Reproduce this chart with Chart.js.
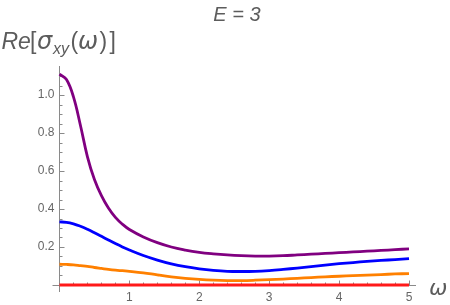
<!DOCTYPE html>
<html>
<head>
<meta charset="utf-8">
<script src="https://cdn.jsdelivr.net/npm/chart.js@4"></script>
<style>
html,body{margin:0;padding:0;background:#fff;}
#c{display:block;}
</style>
</head>
<body>
<canvas id="c" width="450" height="305"></canvas>
<script>
// ---- data ----
const omega = [0,0.1,0.2,0.3,0.4,0.5,0.6,0.7,0.8,0.9,1.0,1.2,1.4,1.6,1.8,2.0,2.2,2.4,2.6,2.8,3.0,3.2,3.4,3.6,3.8,4.0,4.2,4.4,4.6,4.8,5.0];
const purpleVals = [1.110,1.082,0.990,0.840,0.675,0.555,0.470,0.405,0.356,0.320,0.292,0.253,0.223,0.200,0.184,0.172,0.164,0.158,0.154,0.152,0.152,0.154,0.158,0.162,0.166,0.170,0.174,0.178,0.182,0.186,0.190];
const blueVals = [0.332,0.330,0.322,0.309,0.293,0.275,0.256,0.237,0.218,0.200,0.184,0.155,0.131,0.111,0.096,0.085,0.077,0.072,0.071,0.072,0.076,0.082,0.089,0.097,0.105,0.112,0.118,0.124,0.129,0.134,0.139];
const orangeVals = [0.109,0.108,0.106,0.102,0.098,0.092,0.087,0.082,0.078,0.075,0.072,0.064,0.053,0.043,0.035,0.029,0.025,0.023,0.023,0.025,0.028,0.031,0.035,0.039,0.043,0.046,0.049,0.052,0.055,0.058,0.060];
const redVals = [0,0,0,0,0,0,0,0,0,0,0,0,0,0,0,0,0,0,0,0,0,0,0,0,0,0,0,0,0,0,0];
const xMajorTicks = [1,2,3,4,5];
const xTickLabels = ['1','2','3','4','5'];
const yMajorTicks = [0.2,0.4,0.6,0.8,1.0];
const yTickLabels = ['0.2','0.4','0.6','0.8','1.0'];
const titleText = 'E = 3';
const xAxisLabel = 'ω';

function pts(vals){ return omega.map((x,i)=>({x:x,y:vals[i]})); }

const axesPlugin = {
  id:'mmaAxes',
  beforeDatasetsDraw(chart){
    const ctx = chart.ctx, a = chart.chartArea;
    const xs = chart.scales.x, ys = chart.scales.y;
    const x0 = Math.round(xs.getPixelForValue(0)) + 0.5;
    const y0 = Math.round(ys.getPixelForValue(0)) + 0.5;
    ctx.save();
    ctx.strokeStyle = '#8a8a8a';
    ctx.lineWidth = 1;
    ctx.beginPath();
    ctx.moveTo(a.left, y0); ctx.lineTo(a.right, y0);
    ctx.moveTo(x0, a.top); ctx.lineTo(x0, a.bottom);
    for (let i=1;i<=25;i++){
      const v = i*0.2;
      const px = Math.round(xs.getPixelForValue(v)) + 0.5;
      const major = (i%5===0);
      ctx.moveTo(px, y0); ctx.lineTo(px, y0 - (major?5:3));
    }
    for (let i=1;i<=22;i++){
      const v = i*0.05;
      const py = Math.round(ys.getPixelForValue(v)) + 0.5;
      const major = (i%4===0);
      ctx.moveTo(x0, py); ctx.lineTo(x0 + (major?5:3), py);
    }
    ctx.stroke();
    ctx.fillStyle = '#666';
    ctx.font = '12px "Liberation Sans", Arial, sans-serif';
    ctx.textAlign = 'center'; ctx.textBaseline = 'alphabetic';
    xMajorTicks.forEach((v,i)=>{
      ctx.fillText(xTickLabels[i], xs.getPixelForValue(v), 301);
    });
    ctx.textAlign = 'right'; ctx.textBaseline = 'middle';
    yMajorTicks.forEach((v,i)=>{
      ctx.fillText(yTickLabels[i], 54.5, ys.getPixelForValue(v));
    });
    ctx.restore();
  },
  afterDraw(chart){
    const ctx = chart.ctx;
    const F = '"Liberation Sans", Arial, sans-serif';
    const G = '"DejaVu Sans", sans-serif';
    ctx.save();
    ctx.fillStyle = '#5c5c5c';
    ctx.textBaseline = 'alphabetic';
    ctx.font = 'italic 20px '+F;
    ctx.textAlign = 'center';
    ctx.fillText(titleText, 237, 21);
    ctx.textAlign = 'left';
    const parts = [
      ['Re','italic 23px '+F,1.5,0],
      ['[','23px '+F,30,0],
      ['σ','italic 24px '+G,37,0],
      ['xy','italic 16px '+F,53,5],
      ['(','23px '+F,70.5,0],
      ['ω','italic 24px '+G,78,0],
      [')','23px '+F,99.5,0],
      [']','23px '+F,109.5,0]
    ];
    parts.forEach(p=>{
      ctx.font = p[1];
      ctx.fillText(p[0], p[2], 48.5 + p[3]);
    });
    ctx.font = 'italic 22px '+G;
    ctx.fillText(xAxisLabel, 429, 295);
    ctx.restore();
  }
};

new Chart(document.getElementById('c'), {
  type:'line',
  data:{
    datasets:[
      {data:pts(redVals), borderColor:'#ff1a1a', borderWidth:3},
      {data:pts(orangeVals), borderColor:'#ff8000', borderWidth:2.8},
      {data:pts(blueVals), borderColor:'#0000ff', borderWidth:2.8},
      {data:pts(purpleVals), borderColor:'#800080', borderWidth:2.8}
    ]
  },
  options:{
    responsive:false,
    devicePixelRatio:1,
    animation:false,
    events:[],
    layout:{padding:{left:52.5, right:34, top:66, bottom:13}},
    elements:{point:{radius:0}, line:{tension:0.4, fill:false}},
    plugins:{legend:{display:false}, title:{display:false}, tooltip:{enabled:false}},
    scales:{
      x:{type:'linear', min:-0.1, max:5.1, display:false},
      y:{type:'linear', min:-0.037, max:1.153, display:false}
    }
  },
  plugins:[axesPlugin]
});
</script>
</body>
</html>
